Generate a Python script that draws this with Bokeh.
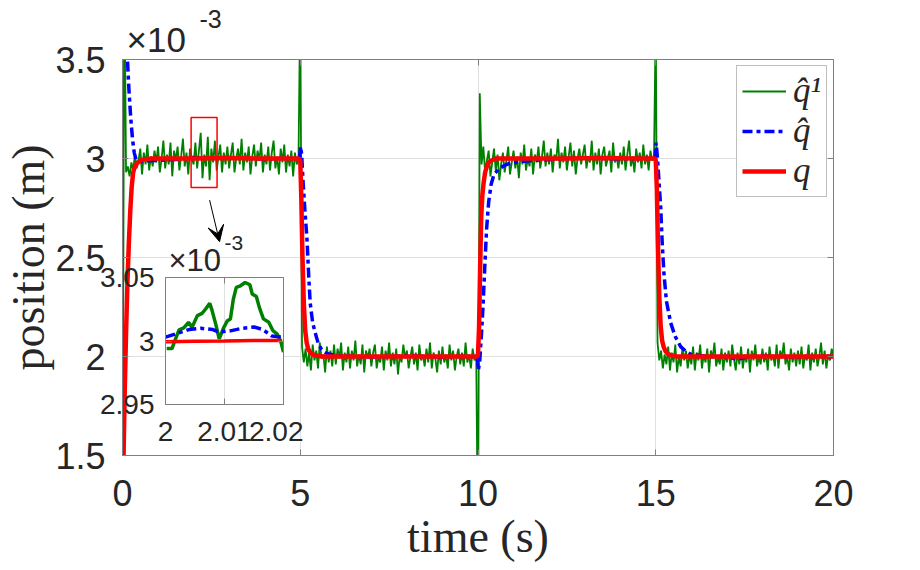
import numpy as np
from bokeh.plotting import figure
from bokeh.models import (Range1d, FixedTicker, LinearAxis, Title, Arrow, VeeHead,
                          Legend, LegendItem)
from bokeh.layouts import column
from bokeh.embed import file_html
from bokeh.resources import INLINE

# ---------------- data (values in units of 1e-3 m) ----------------
x_ticks = [0, 5, 10, 15, 20]
x_tick_labels = ["0", "5", "10", "15", "20"]
y_ticks = [1.5, 2, 2.5, 3, 3.5]
y_tick_labels = ["1.5", "2", "2.5", "3", "3.5"]

green_dt = 0.05
green_q1 = [
    1.00, 4.00, 2.93, 2.96, 2.91, 2.98, 2.94, 3.02, 2.95, 2.99, 3.05, 2.92, 3.03, 2.97, 3.07, 2.94, 3.01, 2.96, 3.04, 2.98,
    3.06, 2.93, 3.00, 3.09, 2.95, 3.02, 2.97, 3.08, 2.91, 3.04, 2.99, 3.06, 2.94, 3.01, 3.10, 2.96, 3.03, 2.92, 3.05, 3.00,
    2.97, 3.08, 2.95, 3.04, 3.13, 2.90, 3.02, 2.96, 3.11, 2.89, 3.05, 2.98, 3.09, 2.94, 3.01, 3.07, 2.93, 3.03, 2.97, 3.06,
    2.95, 3.02, 3.08, 2.93, 3.00, 3.05, 2.97, 3.10, 2.94, 3.03, 2.98, 3.06, 2.92, 3.01, 3.07, 2.96, 3.04, 2.99, 3.08, 2.93,
    3.02, 2.97, 3.06, 2.94, 3.03, 3.09, 2.95, 3.01, 2.92, 3.05, 2.98, 3.07, 2.93, 3.02, 2.96, 3.04, 2.91, 3.03, 2.97, 2.99,
    3.80, 2.05, 1.97, 2.04, 1.95, 2.02, 1.93, 2.06, 1.98, 2.03, 1.94, 2.07, 1.99, 2.01, 1.92, 2.05, 1.97, 2.03, 1.95, 2.06,
    1.96, 2.04, 1.99, 2.07, 1.93, 2.02, 1.97, 2.05, 1.94, 2.03, 1.98, 2.08, 1.95, 2.01, 1.96, 2.06, 1.92, 2.03, 1.99, 2.04,
    1.95, 2.02, 2.06, 1.94, 2.00, 1.97, 2.05, 1.93, 2.03, 1.98, 2.07, 1.95, 2.02, 1.96, 2.04, 1.91, 2.01, 1.97, 2.06, 1.99,
    2.03, 1.94, 2.00, 2.05, 1.96, 2.02, 1.93, 2.06, 1.98, 2.01, 1.95, 2.04, 1.97, 2.07, 1.94, 2.02, 1.99, 1.92, 2.03, 1.96,
    2.05, 1.97, 2.01, 1.94, 2.06, 1.98, 2.03, 1.93, 2.00, 2.04, 1.96, 2.02, 1.95, 2.07, 1.97, 2.01, 1.94, 2.04, 1.98, 2.00,
    1.00, 3.33, 2.97, 3.06, 2.93, 2.99, 3.04, 2.91, 2.98, 3.05, 2.94, 3.02, 2.89, 2.97, 3.03, 2.93, 2.99, 3.06, 2.92, 2.98,
    3.04, 2.95, 3.01, 2.90, 3.03, 2.97, 3.07, 2.94, 3.00, 2.96, 3.05, 2.92, 3.02, 2.98, 3.06, 2.95, 3.01, 3.09, 2.96, 3.03,
    2.97, 3.05, 2.93, 3.02, 2.99, 3.10, 2.95, 3.03, 2.98, 3.06, 2.94, 3.01, 3.08, 2.96, 3.04, 2.92, 3.00, 3.05, 2.97, 3.02,
    3.07, 2.95, 3.01, 2.98, 3.09, 2.94, 3.03, 2.97, 3.05, 2.92, 3.02, 3.06, 2.96, 3.00, 3.04, 2.93, 3.08, 2.98, 3.01, 2.95,
    3.03, 2.97, 3.06, 2.94, 3.02, 3.09, 2.96, 3.01, 2.93, 3.05, 2.98, 3.03, 2.95, 3.07, 2.97, 3.02, 2.94, 3.04, 2.99, 3.00,
    3.70, 2.07, 1.98, 2.03, 1.94, 2.01, 1.96, 2.05, 1.93, 2.02, 1.97, 2.06, 1.92, 2.00, 1.95, 2.04, 1.98, 2.03, 1.94, 2.01,
    1.96, 2.05, 1.93, 2.02, 1.98, 2.06, 1.94, 2.01, 1.97, 2.04, 1.92, 2.03, 1.99, 2.07, 1.95, 2.00, 1.96, 2.04, 1.93, 2.02,
    1.97, 2.03, 1.95, 2.06, 1.99, 1.93, 2.02, 1.96, 2.05, 1.94, 2.01, 1.97, 2.04, 1.92, 2.03, 1.98, 2.06, 1.95, 2.00, 1.96,
    2.04, 1.97, 2.02, 1.93, 2.05, 1.98, 2.01, 1.95, 2.06, 1.94, 2.03, 1.99, 2.07, 1.96, 2.00, 1.93, 2.04, 1.97, 2.02, 1.95,
    2.03, 1.96, 2.05, 1.94, 2.01, 1.98, 2.06, 1.93, 2.02, 1.97, 2.04, 1.95, 2.00, 2.07, 1.96, 2.03, 1.94, 2.01, 1.98, 2.04,
    2.00,
]
green_t = [round(i * green_dt, 2) for i in range(len(green_q1))]

blue_t = [0.0, 0.05, 0.1, 0.14, 0.18, 0.23, 0.28, 0.33, 0.38, 0.45, 0.6, 0.8, 1.0, 1.5, 2.0, 2.5,
          3.0, 3.5, 4.0, 4.5, 4.98, 5.01, 5.04, 5.08, 5.13, 5.19, 5.24, 5.28, 5.35, 5.42, 5.5, 5.6,
          5.75, 6.0, 6.5, 7.0, 7.5, 8.0, 8.5, 9.0, 9.5, 9.98, 10.01, 10.05, 10.1, 10.14, 10.19,
          10.24, 10.3, 10.37, 10.45, 10.6, 10.8, 11.0, 11.5, 12.0, 12.5, 13.0, 13.5, 14.0, 14.5,
          14.98, 15.01, 15.05, 15.1, 15.14, 15.18, 15.23, 15.3, 15.42, 15.55, 15.7, 15.85, 16.0,
          16.5, 17.0, 17.3, 17.6, 18.0, 18.5, 19.0, 19.5, 20.0]
blue_qhat = [4.6, 4.2, 3.75, 3.5, 3.35, 3.21, 3.10, 3.03, 2.995, 2.985, 2.985, 2.99, 2.99, 2.995, 3.005, 3.0,
             3.005, 3.0, 2.998, 3.0, 3.0, 3.06, 3.02, 2.88, 2.74, 2.59, 2.40, 2.27, 2.17, 2.12, 2.07, 2.035,
             2.015, 2.005, 2.0, 1.998, 2.0, 2.003, 2.0, 1.998, 2.0, 2.0, 1.93, 1.98, 2.12, 2.25, 2.45,
             2.64, 2.78, 2.87, 2.92, 2.95, 2.97, 2.98, 2.99, 2.995, 3.0, 3.005, 3.0, 2.998, 3.0,
             3.0, 3.08, 3.0, 2.86, 2.75, 2.58, 2.42, 2.28, 2.17, 2.10, 2.05, 2.025, 2.01,
             2.0, 2.0, 1.985, 2.0, 2.002, 2.0, 1.998, 2.0, 2.0]

red_t = [0.0, 0.03, 0.06, 0.1, 0.14, 0.18, 0.22, 0.26, 0.3, 0.35, 0.4, 0.5, 0.6, 0.8, 1.2, 2.0, 3.0,
         4.0, 4.6, 4.95, 5.0, 5.03, 5.06, 5.1, 5.14, 5.18, 5.22, 5.28, 5.35, 5.45, 5.6, 6.0, 7.0, 8.0,
         9.0, 9.98, 10.0, 10.03, 10.06, 10.09, 10.12, 10.16, 10.2, 10.25, 10.3, 10.38, 10.5, 10.7,
         11.5, 12.5, 13.5, 14.5, 14.98, 15.0, 15.03, 15.06, 15.1, 15.14, 15.18, 15.22, 15.28, 15.35,
         15.45, 15.6, 16.0, 17.0, 18.0, 19.0, 20.0]
red_q = [1.20, 1.50, 1.80, 2.12, 2.38, 2.58, 2.74, 2.86, 2.93, 2.96, 2.975, 2.99, 2.995, 3.0, 3.0, 3.0, 3.002,
         3.0, 3.0, 3.0, 2.99, 2.80, 2.52, 2.27, 2.13, 2.07, 2.04, 2.02, 2.01, 2.005, 2.0, 2.0, 2.0, 2.0,
         2.0, 2.0, 2.01, 2.15, 2.45, 2.70, 2.81, 2.88, 2.93, 2.96, 2.98, 2.99, 3.0, 3.0,
         3.0, 3.0, 3.002, 3.0, 3.0, 2.99, 2.85, 2.58, 2.30, 2.15, 2.08, 2.05, 2.025, 2.012,
         2.005, 2.0, 2.0, 2.0, 2.0, 2.0, 2.0]

# zoom marker (left, right, bottom, top) and arrow (x0, y0, x1, y1)
zoom_box = [1.93, 2.66, 2.853, 3.207]
zoom_arrow = [2.45, 2.79, 2.73, 2.58]

# inset data
inset_x_ticks = [2.0, 2.01, 2.02]
inset_x_labels = ["2", "2.01", "2.02"]
inset_y_ticks = [2.95, 3.0, 3.05]
inset_y_labels = ["2.95", "3", "3.05"]
inset_green_t = [2.0002, 2.0011, 2.0017, 2.0023, 2.0031, 2.0039, 2.0045, 2.0054, 2.0062, 2.0068, 2.0075,
                 2.0079, 2.0085, 2.0091, 2.0099, 2.0105, 2.011, 2.0115, 2.012, 2.0127, 2.0135, 2.0143,
                 2.0147, 2.0154, 2.0159, 2.0166, 2.0175, 2.0182, 2.0189, 2.0195, 2.0200]
inset_green = [2.994, 2.994, 3.0017, 3.0088, 3.0103, 3.0147, 3.0108, 3.020, 3.0218, 3.0252, 3.0296,
               3.0239, 3.0135, 3.0017, 3.0108, 3.016, 3.0174, 3.033, 3.0422, 3.0435, 3.0461, 3.0443,
               3.037, 3.035, 3.0265, 3.0174, 3.0147, 3.0082, 3.0056, 3.0004, 2.9912]
inset_blue_t = [2.0, 2.002, 2.004, 2.006, 2.008, 2.009, 2.011, 2.013, 2.015, 2.0165, 2.018, 2.0198]
inset_blue = [3.003, 3.006, 3.009, 3.010, 3.009, 3.007, 3.008, 3.010, 3.011, 3.009, 3.004, 3.003]
inset_red_t = [2.0, 2.005, 2.01, 2.015, 2.0195]
inset_red = [2.9995, 2.9998, 3.0, 3.0003, 3.0004]

legend_labels = ["q\u0302\u00b9", "q\u0302", "q"]
exp_base, exp_power = "\u00d710", "-3"

# ---------------- styling ----------------
GREEN, BLUE, RED = "#008000", "#0000ff", "#ff0000"
AX = "#808080"
TXT = "#262626"
GRID = "#dfdfdf"
SANS = "Liberation Sans"
SERIF = "Liberation Serif"


def style_axes(fig, xt, xl, yt, yl, font_size, xstand, ystand):
    bottom = fig.below[0]
    left = fig.left[0]
    top = LinearAxis()
    right = LinearAxis()
    fig.add_layout(top, "above")
    fig.add_layout(right, "right")
    for ax in (bottom, top):
        ax.ticker = FixedTicker(ticks=xt)
        ax.major_label_overrides = {v: s for v, s in zip(xt, xl)}
        ax.major_label_standoff = xstand
    for ax in (left, right):
        ax.ticker = FixedTicker(ticks=yt)
        ax.major_label_overrides = {v: s for v, s in zip(yt, yl)}
        ax.major_label_standoff = ystand
    for ax in (bottom, top, left, right):
        ax.axis_line_color = AX
        ax.major_tick_line_color = AX
        ax.major_tick_in = 6
        ax.major_tick_out = 0
        ax.minor_tick_line_color = None
        ax.major_label_text_font = SANS
        ax.major_label_text_font_size = font_size
        ax.major_label_text_color = TXT
    for ax in (top, right):
        ax.major_label_text_font_size = "1px"
        ax.major_label_text_alpha = 0
        ax.major_label_standoff = 0
    fig.xgrid.ticker = FixedTicker(ticks=xt)
    fig.ygrid.ticker = FixedTicker(ticks=yt)
    fig.grid.grid_line_color = GRID
    fig.outline_line_color = AX
    return bottom, left


def add_exponent(fig, base_size, pow_size, base_off, pow_off, base_stand, pow_stand):
    fig.add_layout(Title(text=exp_base, align="left", offset=base_off, standoff=base_stand,
                         text_font=SANS, text_font_size=base_size, text_font_style="normal",
                         text_color=TXT), "above")
    fig.add_layout(Title(text=exp_power, align="left", offset=pow_off, standoff=pow_stand,
                         text_font=SANS, text_font_size=pow_size, text_font_style="normal",
                         text_color=TXT), "above")


MAIN_H = 565
p = figure(width=893, height=MAIN_H, output_backend="svg", toolbar_location=None, title=None,
           x_range=Range1d(x_ticks[0], x_ticks[-1]), y_range=Range1d(y_ticks[0], y_ticks[-1]),
           min_border_left=120, min_border_right=60, min_border_top=59, min_border_bottom=110)
xb, yl_ax = style_axes(p, x_ticks, x_tick_labels, y_ticks, y_tick_labels, "36px", 24, 17)
add_exponent(p, "35px", "25px", 4, 77, 2, -22)
xb.axis_label = "time (s)"
yl_ax.axis_label = "position (m)"
for ax in (xb, yl_ax):
    ax.axis_label_text_font = SERIF
    ax.axis_label_text_font_style = "normal"
    ax.axis_label_text_font_size = "46px"
    ax.axis_label_text_color = TXT
xb.axis_label_standoff = 2
yl_ax.axis_label_standoff = -2

g = p.line(green_t, green_q1, line_color=GREEN, line_width=1.8)
b = p.line(blue_t, blue_qhat, line_color=BLUE, line_width=3.5, line_dash="10 4 4 4")
r = p.line(red_t, red_q, line_color=RED, line_width=4.5)

p.quad(left=[zoom_box[0]], right=[zoom_box[1]], bottom=[zoom_box[2]], top=[zoom_box[3]],
       fill_color=None, line_color=RED, line_width=1.5)
p.add_layout(Arrow(x_start=zoom_arrow[0], y_start=zoom_arrow[1], x_end=zoom_arrow[2], y_end=zoom_arrow[3],
                   line_color="black", line_width=1,
                   end=VeeHead(size=16, fill_color="black", line_color="black")))

legend = Legend(items=[LegendItem(label=legend_labels[0], renderers=[g]),
                       LegendItem(label=legend_labels[1], renderers=[b]),
                       LegendItem(label=legend_labels[2], renderers=[r])],
                location="top_right")
legend.margin = 6
legend.padding = 5
legend.spacing = 0
legend.glyph_width = 44
legend.glyph_height = 38
legend.label_height = 38
legend.label_standoff = 7
legend.border_line_color = AX
legend.label_text_font = SERIF
legend.label_text_font_style = "italic"
legend.label_text_font_size = "35px"
legend.label_text_color = TXT
p.add_layout(legend)

# ---------------- inset ----------------
INSET_TOP = 52
ins = figure(width=213, height=172 + INSET_TOP, output_backend="svg", toolbar_location=None, title=None,
             x_range=Range1d(inset_x_ticks[0], inset_x_ticks[-1]),
             y_range=Range1d(inset_y_ticks[0], inset_y_ticks[-1]),
             min_border_left=75, min_border_right=20, min_border_top=INSET_TOP, min_border_bottom=45)
style_axes(ins, inset_x_ticks, inset_x_labels, inset_y_ticks, inset_y_labels, "28px", 17, 11)
add_exponent(ins, "31px", "21px", 3, 59, 0, -19)
ins.border_fill_alpha = 0
ins.background_fill_color = "white"
ins.line(inset_green_t, inset_green, line_color=GREEN, line_width=3.5)
ins.line(inset_blue_t, inset_blue, line_color=BLUE, line_width=3.5, line_dash="10 4 4 4")
ins.line(inset_red_t, inset_red, line_color=RED, line_width=3.5)

inset_box = column(ins)
inset_box.margin = (277 - INSET_TOP - MAIN_H, 0, 0, 90)

layout = column(p, inset_box)
open("out.html", "w").write(file_html(layout, INLINE))
